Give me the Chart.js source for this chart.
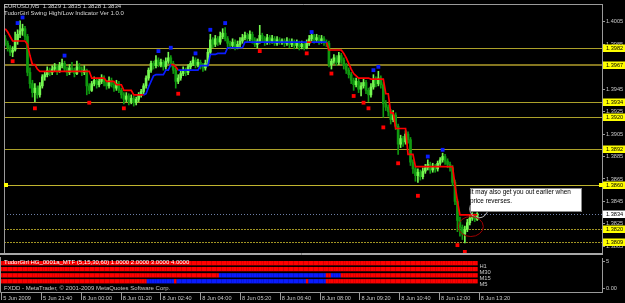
<!DOCTYPE html>
<html><head><meta charset="utf-8">
<script src="https://cdn.jsdelivr.net/npm/chart.js@4.4.1/dist/chart.umd.min.js"></script>
<style>
html,body{margin:0;padding:0;background:#000;}
#wrap{position:relative;width:625px;height:303px;overflow:hidden;background:#000;}
#main{position:absolute;left:0;top:0;}
#sub{position:absolute;left:0;top:257px;}
</style></head><body>
<div id="wrap"><canvas id="main" width="625" height="257"></canvas><canvas id="sub" width="625" height="46"></canvas></div>
<script>
// ---------------- data ----------------
const symbolTitle = 'EURUSD,M5  1.3829 1.3835 1.3828 1.3834';
const indicatorTitle = 'TudorGirl Swing High/Low Indicator Ver 1.0.0';
const mtfTitle = 'TudorGirl HG_0001a_MTF (5,15,30,60) 1.0000 2.0000 3.0000 4.0000';
const copyrightText = 'FXDD - MetaTrader, \u00A9 2001-2009 MetaQuotes Software Corp.';
const timeTickLabels = ['5 Jun 2009','5 Jun 21:40','8 Jun 00:00','8 Jun 01:20','8 Jun 02:40','8 Jun 04:00','8 Jun 05:20','8 Jun 06:40','8 Jun 08:00','8 Jun 09:20','8 Jun 10:40','8 Jun 12:00','8 Jun 13:20'];
const barsPerTimeTick = 16;
const emptySlotsRight = 50;

const opens = [
1.3990,1.3986,1.3982,1.3978,1.3980,1.3988,1.3994,1.3997,1.3999,1.3992,
1.3960,1.3950,1.3942,1.3946,1.3940,1.3948,1.3956,1.3958,1.3962,1.3960,
1.3963,1.3965,1.3961,1.3966,1.3968,1.3963,1.3960,1.3964,1.3962,1.3959,
1.3965,1.3963,1.3960,1.3962,1.3948,1.3944,1.3950,1.3953,1.3949,1.3952,
1.3955,1.3951,1.3948,1.3953,1.3949,1.3946,1.3950,1.3944,1.3940,1.3936,
1.3939,1.3934,1.3937,1.3933,1.3936,1.3940,1.3943,1.3948,1.3955,1.3962,
1.3968,1.3966,1.3971,1.3967,1.3969,1.3965,1.3970,1.3973,1.3968,1.3962,
1.3952,1.3955,1.3959,1.3962,1.3960,1.3965,1.3968,1.3971,1.3967,1.3969,
1.3966,1.3964,1.3968,1.3978,1.3989,1.3985,1.3990,1.3987,1.3992,1.3995,
1.3990,1.3986,1.3984,1.3987,1.3983,1.3985,1.3988,1.3991,1.3993,1.3990,
1.3994,1.3989,1.3985,1.3988,1.3993,1.3990,1.3987,1.3991,1.3988,1.3990,
1.3986,1.3989,1.3987,1.3988,1.3986,1.3988,1.3985,1.3987,1.3984,1.3986,
1.3983,1.3985,1.3982,1.3986,1.3990,1.3993,1.3989,1.3991,1.3988,1.3990,
1.3987,1.3986,1.3967,1.3970,1.3973,1.3969,1.3975,1.3971,1.3966,1.3962,
1.3958,1.3953,1.3949,1.3952,1.3945,1.3948,1.3951,1.3944,1.3940,1.3947,
1.3953,1.3950,1.3955,1.3949,1.3932,1.3929,1.3925,1.3918,1.3922,1.3912,
1.3896,1.3901,1.3898,1.3905,1.3900,1.3880,1.3874,1.3868,1.3871,1.3867,
1.3872,1.3875,1.3878,1.3873,1.3876,1.3874,1.3879,1.3882,1.3885,1.3881,
1.3878,1.3875,1.3862,1.3845,1.3828,1.3822,1.3816,1.3820,1.3826,1.3830,
1.3832,1.3829];
const highs = [
1.3993,1.3988,1.3984,1.3983,1.3996,1.3998,1.4006,1.4003,1.4001,1.3994,
1.3964,1.3953,1.3950,1.3948,1.3951,1.3958,1.3961,1.3965,1.3964,1.3966,
1.3968,1.3967,1.3969,1.3972,1.3970,1.3965,1.3967,1.3969,1.3964,1.3970,
1.3968,1.3965,1.3966,1.3963,1.3950,1.3952,1.3956,1.3955,1.3954,1.3958,
1.3957,1.3953,1.3956,1.3955,1.3951,1.3953,1.3952,1.3946,1.3942,1.3942,
1.3941,1.3940,1.3939,1.3938,1.3942,1.3945,1.3950,1.3957,1.3964,1.3970,
1.3970,1.3975,1.3973,1.3972,1.3971,1.3973,1.3978,1.3975,1.3970,1.3964,
1.3958,1.3961,1.3965,1.3964,1.3967,1.3970,1.3974,1.3973,1.3972,1.3971,
1.3968,1.3971,1.3981,1.3994,1.3991,1.3993,1.3992,1.3996,1.3999,1.4000,
1.3992,1.3988,1.3990,1.3989,1.3988,1.3991,1.3994,1.3996,1.3995,1.3997,
1.3996,1.3991,1.3990,1.4002,1.3995,1.3992,1.3994,1.3993,1.3993,1.3992,
1.3992,1.3991,1.3990,1.3990,1.3991,1.3990,1.3990,1.3989,1.3989,1.3988,
1.3988,1.3987,1.3989,1.3993,1.3995,1.3994,1.3994,1.3993,1.3993,1.3992,
1.3989,1.3988,1.3972,1.3976,1.3975,1.3978,1.3977,1.3973,1.3968,1.3964,
1.3960,1.3955,1.3955,1.3954,1.3951,1.3954,1.3953,1.3946,1.3950,1.3958,
1.3956,1.3961,1.3957,1.3951,1.3935,1.3931,1.3927,1.3926,1.3924,1.3914,
1.3904,1.3903,1.3908,1.3907,1.3902,1.3882,1.3876,1.3874,1.3873,1.3875,
1.3878,1.3882,1.3880,1.3879,1.3878,1.3881,1.3884,1.3888,1.3887,1.3883,
1.3880,1.3877,1.3864,1.3847,1.3831,1.3824,1.3823,1.3829,1.3833,1.3835,
1.3834,1.3835];
const lows = [
1.3984,1.3979,1.3975,1.3974,1.3979,1.3985,1.3991,1.3993,1.3989,1.3957,
1.3946,1.3938,1.3934,1.3937,1.3938,1.3946,1.3953,1.3956,1.3957,1.3958,
1.3961,1.3958,1.3960,1.3964,1.3961,1.3957,1.3958,1.3960,1.3956,1.3958,
1.3961,1.3957,1.3958,1.3940,1.3941,1.3943,1.3948,1.3946,1.3947,1.3950,
1.3948,1.3945,1.3946,1.3947,1.3943,1.3944,1.3942,1.3937,1.3932,1.3934,
1.3931,1.3932,1.3930,1.3931,1.3934,1.3938,1.3941,1.3946,1.3953,1.3960,
1.3963,1.3964,1.3965,1.3965,1.3962,1.3963,1.3968,1.3965,1.3959,1.3946,
1.3950,1.3953,1.3957,1.3957,1.3958,1.3963,1.3966,1.3964,1.3965,1.3963,
1.3961,1.3962,1.3966,1.3976,1.3982,1.3983,1.3984,1.3985,1.3990,1.3988,
1.3983,1.3981,1.3982,1.3980,1.3981,1.3983,1.3986,1.3989,1.3987,1.3988,
1.3986,1.3983,1.3982,1.3986,1.3987,1.3984,1.3985,1.3985,1.3986,1.3984,
1.3984,1.3985,1.3985,1.3983,1.3984,1.3982,1.3983,1.3981,1.3982,1.3980,
1.3981,1.3980,1.3981,1.3984,1.3988,1.3986,1.3987,1.3985,1.3986,1.3984,
1.3983,1.3965,1.3963,1.3968,1.3966,1.3967,1.3968,1.3963,1.3959,1.3955,
1.3950,1.3944,1.3947,1.3942,1.3939,1.3946,1.3941,1.3934,1.3938,1.3945,
1.3947,1.3948,1.3946,1.3920,1.3926,1.3921,1.3914,1.3916,1.3909,1.3887,
1.3893,1.3894,1.3896,1.3897,1.3877,1.3870,1.3863,1.3862,1.3864,1.3865,
1.3870,1.3873,1.3870,1.3871,1.3871,1.3872,1.3877,1.3880,1.3878,1.3875,
1.3872,1.3859,1.3842,1.3818,1.3814,1.3811,1.3808,1.3818,1.3824,1.3828,
1.3827,1.3828];
const closes = [
1.3986,1.3982,1.3978,1.3980,1.3988,1.3994,1.3997,1.3999,1.3992,1.3960,
1.3950,1.3942,1.3946,1.3940,1.3948,1.3956,1.3958,1.3962,1.3960,1.3963,
1.3965,1.3961,1.3966,1.3968,1.3963,1.3960,1.3964,1.3962,1.3959,1.3965,
1.3963,1.3960,1.3962,1.3948,1.3944,1.3950,1.3953,1.3949,1.3952,1.3955,
1.3951,1.3948,1.3953,1.3949,1.3946,1.3950,1.3944,1.3940,1.3936,1.3939,
1.3934,1.3937,1.3933,1.3936,1.3940,1.3943,1.3948,1.3955,1.3962,1.3968,
1.3966,1.3971,1.3967,1.3969,1.3965,1.3970,1.3973,1.3968,1.3962,1.3952,
1.3955,1.3959,1.3962,1.3960,1.3965,1.3968,1.3971,1.3967,1.3969,1.3966,
1.3964,1.3968,1.3978,1.3989,1.3985,1.3990,1.3987,1.3992,1.3995,1.3990,
1.3986,1.3984,1.3987,1.3983,1.3985,1.3988,1.3991,1.3993,1.3990,1.3994,
1.3989,1.3985,1.3988,1.3993,1.3990,1.3987,1.3991,1.3988,1.3990,1.3986,
1.3989,1.3987,1.3988,1.3986,1.3988,1.3985,1.3987,1.3984,1.3986,1.3983,
1.3985,1.3982,1.3986,1.3990,1.3993,1.3989,1.3991,1.3988,1.3990,1.3987,
1.3986,1.3967,1.3970,1.3973,1.3969,1.3975,1.3971,1.3966,1.3962,1.3958,
1.3953,1.3949,1.3952,1.3945,1.3948,1.3951,1.3944,1.3940,1.3947,1.3953,
1.3950,1.3955,1.3949,1.3932,1.3929,1.3925,1.3918,1.3922,1.3912,1.3896,
1.3901,1.3898,1.3905,1.3900,1.3880,1.3874,1.3868,1.3871,1.3867,1.3872,
1.3875,1.3878,1.3873,1.3876,1.3874,1.3879,1.3882,1.3885,1.3881,1.3878,
1.3875,1.3862,1.3845,1.3828,1.3822,1.3816,1.3820,1.3826,1.3830,1.3832,
1.3829,1.3834];

// trailing swing line (value per bar) and its colour runs [fromBar, toBar, side]
const trail = [
1.3999,1.3996,1.3992,1.3988,1.3988,1.3988,1.3988,1.3988,1.3988,1.3985,
1.3975,1.3967,1.3967,1.3963,1.3961,1.3961,1.3961,1.3961,1.3961,1.3961,
1.3961,1.3961,1.3961,1.3961,1.3961,1.3961,1.3961,1.3961,1.3961,1.3961,
1.3961,1.3961,1.3961,1.3961,1.3961,1.3955,1.3955,1.3955,1.3955,1.3955,
1.3955,1.3952,1.3952,1.3952,1.3952,1.3949,1.3949,1.3949,1.3944,1.3944,
1.3944,1.3944,1.3940,1.3940,1.3940,1.3940,1.3940,1.3941,1.3947,1.3952,
1.3957,1.3958,1.3958,1.3958,1.3958,1.3962,1.3962,1.3967,1.3967,1.3965,
1.3962,1.3962,1.3962,1.3962,1.3962,1.3962,1.3962,1.3962,1.3962,1.3966,
1.3966,1.3966,1.3966,1.3976,1.3976,1.3976,1.3977,1.3977,1.3977,1.3977,
1.3982,1.3982,1.3982,1.3982,1.3982,1.3982,1.3982,1.3987,1.3987,1.3987,
1.3987,1.3987,1.3987,1.3987,1.3987,1.3987,1.3987,1.3987,1.3987,1.3987,
1.3987,1.3987,1.3987,1.3987,1.3987,1.3987,1.3987,1.3987,1.3987,1.3987,
1.3987,1.3987,1.3987,1.3987,1.3987,1.3987,1.3987,1.3987,1.3987,1.3987,
1.3987,1.3980,1.3980,1.3980,1.3980,1.3980,1.3980,1.3977,1.3973,1.3968,
1.3963,1.3959,1.3957,1.3955,1.3955,1.3955,1.3955,1.3955,1.3954,1.3954,
1.3954,1.3954,1.3954,1.3954,1.3941,1.3941,1.3924,1.3924,1.3910,1.3910,
1.3910,1.3910,1.3910,1.3887,1.3887,1.3887,1.3876,1.3876,1.3876,1.3876,
1.3876,1.3876,1.3876,1.3876,1.3876,1.3876,1.3876,1.3876,1.3876,1.3876,
1.3876,1.3876,1.3860,1.3845,1.3833,1.3833,1.3833,1.3833,1.3833,1.3833,
1.3833,1.3833];
const trailRuns = [[0,56,'down'],[56,67,'up'],[67,70,'down'],[70,122,'up'],[122,124,'down'],[124,130,'up'],[130,191,'down']];

const swingHighBars   = [5, 7, 24, 62, 67, 77, 83, 89, 124, 149, 151, 171, 177];
const swingHighValues = [1.4004,1.4009,1.3975,1.3979,1.3982,1.3977,1.3998,1.4004,1.3996,1.3962,1.3965,1.3885,1.3891];
const swingLowBars    = [3, 12, 34, 48, 70, 103, 122, 132, 141, 145, 147, 153, 159, 167, 183, 186];
const swingLowValues  = [1.3970,1.3928,1.3933,1.3928,1.3941,1.3979,1.3977,1.3959,1.3939,1.3933,1.3928,1.3911,1.3879,1.3850,1.3806,1.3800];

const levelValues = [1.3982, 1.3967, 1.3934, 1.3920, 1.3892, 1.3860, 1.3820, 1.3809];
const selectedLevel = 1.3860;
const bidPrice = 1.3834;
const priceTicks = [1.4005,1.3985,1.3965,1.3945,1.3925,1.3905,1.3885,1.3865,1.3845,1.3825,1.3805];
const priceMin = 1.3799, priceMax = 1.4021;

const mtfRowNames  = ['H1','M30','M15','M5'];
const mtfRowLevels = [4.6, 3.5, 2.35, 1.25];
const mtfRuns = [
  [[0,191,'down']],
  [[0,191,'down']],
  [[0,87,'down'],[88,130,'up'],[131,132,'down'],[133,136,'up'],[137,191,'down']],
  [[0,58,'down'],[59,69,'up'],[70,70,'down'],[71,122,'up'],[123,123,'down'],[124,130,'up'],[131,191,'down']]
];
const subTickValues = [5, 0];
const subTickLabels = ['5', '0.00'];

const noteLines = ['It may also get you out earlier when', 'price reverses.'];
const noteBox = {fromBar: 188.0, toBar: 233.4, top: 1.38567, bottom: 1.38357};
const noteEllipse = {bar: 188.4, price: 1.38226};
const noteCircle = {bar: 191.6, price: 1.38383};

// ---------------- styles ----------------
const COL = {bull:'#74f850', bear:'#109a10', down:'#ff0000', up:'#0a1cff', axisText:'#c8c8c8', frame:'#9a9a9a'};
const levelStyles = [
  {color:'#aca02a', width:1, dash:[]},
  {color:'#857620', width:2, dash:[]},
  {color:'#aca02a', width:1, dash:[]},
  {color:'#aca02a', width:1, dash:[]},
  {color:'#aca02a', width:1, dash:[]},
  {color:'#c0b430', width:1, dash:[]},
  {color:'#a09424', width:1, dash:[2,1]},
  {color:'#a09424', width:1, dash:[2,1]}
];
const AX_FONT = {family:'Liberation Sans', size:5.6};
Chart.defaults.font.family = 'Liberation Sans';

// ---------------- built tables ----------------
const slotCount = closes.length + emptySlotsRight;
const slotLabels = Array.from({length: slotCount}, (_, i) => i);
const candleColors = closes.map((c, i) => c >= opens[i] ? COL.bull : COL.bear);
const trailDown = trail.map(() => null), trailUp = trail.map(() => null);
trailRuns.forEach(([a, b, side]) => { for (let i = a; i <= b; i++) (side === 'down' ? trailDown : trailUp)[i] = trail[i]; });
const highDots = closes.map(() => null); swingHighBars.forEach((b, k) => highDots[b] = swingHighValues[k]);
const lowDots = closes.map(() => null); swingLowBars.forEach((b, k) => lowDots[b] = swingLowValues[k]);

function text(ctx, s, x, y, color, size, align) {
  ctx.fillStyle = color; ctx.font = size + 'px "Liberation Sans"';
  ctx.textAlign = align || 'left'; ctx.textBaseline = 'middle'; ctx.fillText(s, x, y);
}

// ---------------- main chart ----------------
const mainDecor = {
  id: 'mainDecor',
  beforeDatasetsDraw(chart) {
    const {ctx, chartArea: a, scales: {y}} = chart;
    ctx.save();
    levelValues.forEach((v, i) => {
      const st = levelStyles[i];
      const py = Math.round(y.getPixelForValue(v)) + (st.width % 2 ? 0.5 : 0);
      ctx.strokeStyle = st.color; ctx.lineWidth = st.width; ctx.setLineDash(st.dash);
      ctx.beginPath(); ctx.moveTo(a.left, py); ctx.lineTo(a.right, py); ctx.stroke();
    });
    const by = Math.round(y.getPixelForValue(bidPrice)) + 0.5;
    ctx.strokeStyle = '#6e7fa6'; ctx.lineWidth = 1; ctx.setLineDash([1, 2]);
    ctx.beginPath(); ctx.moveTo(a.left, by); ctx.lineTo(a.right, by); ctx.stroke();
    ctx.restore();
  },
  afterDraw(chart) {
    const {ctx, chartArea: a, scales: {x, y}} = chart;
    ctx.save();
    ctx.strokeStyle = '#b8b8b8'; ctx.lineWidth = 1;
    ctx.beginPath(); ctx.arc(x.getPixelForValue(noteCircle.bar), y.getPixelForValue(noteCircle.price), 9, 0, Math.PI * 2); ctx.stroke();
    const bx0 = Math.round(x.getPixelForValue(noteBox.fromBar)), bx1 = Math.round(x.getPixelForValue(noteBox.toBar));
    const by0 = Math.round(y.getPixelForValue(noteBox.top)), by1 = Math.round(y.getPixelForValue(noteBox.bottom));
    ctx.fillStyle = '#ffffff'; ctx.fillRect(bx0, by0, bx1 - bx0, by1 - by0);
    ctx.strokeStyle = '#8a8a8a'; ctx.strokeRect(bx0 + 0.5, by0 + 0.5, bx1 - bx0 - 1, by1 - by0 - 1);
    noteLines.forEach((s, i) => text(ctx, s, bx0, by0 + 4 + i * 9, '#000', 6.4));
    ctx.strokeStyle = '#a00000';
    ctx.beginPath(); ctx.ellipse(x.getPixelForValue(noteEllipse.bar), y.getPixelForValue(noteEllipse.price), 12.5, 10, 0, 0, Math.PI * 2); ctx.stroke();

    ctx.strokeStyle = COL.frame; ctx.lineWidth = 1;
    ctx.beginPath();
    ctx.moveTo(a.left + 0.5, a.bottom); ctx.lineTo(a.left + 0.5, a.top + 0.5); ctx.lineTo(a.right, a.top + 0.5);
    ctx.stroke();
    ctx.strokeStyle = '#a8a8a8';
    ctx.beginPath(); ctx.moveTo(0, a.bottom + 0.5); ctx.lineTo(a.right + 1, a.bottom + 0.5);
    ctx.moveTo(0, a.bottom + 1.5); ctx.lineTo(a.right + 1, a.bottom + 1.5); ctx.stroke();

    const lab = (v, bg) => {
      const py = Math.round(y.getPixelForValue(v));
      ctx.fillStyle = bg; ctx.fillRect(a.right + 1, py - 3.5, 22, 7.5);
      text(ctx, v.toFixed(4), a.right + 4, py + 0.3, '#000', 5.6);
    };
    levelValues.forEach(v => lab(v, '#ffff00'));
    lab(bidPrice, '#ffffff');
    const sy = Math.round(y.getPixelForValue(selectedLevel));
    ctx.fillStyle = '#ffff00';
    ctx.fillRect(a.left, sy - 2, 4, 4); ctx.fillRect(a.right - 3, sy - 2, 4, 4);

    text(ctx, symbolTitle, 4, 6, '#d8d8d8', 6);
    text(ctx, indicatorTitle, 4, 13.5, '#d8d8d8', 6);
    ctx.restore();
  }
};

new Chart(document.getElementById('main'), {
  type: 'bar',
  data: {
    labels: slotLabels,
    datasets: [
      {label:'wick', data: lows.map((l, i) => [l, highs[i]]), backgroundColor: candleColors, barThickness: 1, grouped: false, order: 6, minBarLength: 1},
      {label:'body', data: opens.map((o, i) => [o, closes[i]]), backgroundColor: candleColors, barThickness: 2, grouped: false, order: 5, minBarLength: 1},
      {type:'line', label:'trail down', data: trailDown, borderColor: COL.down, borderWidth: 1.7, pointRadius: 0, spanGaps: false, order: 3},
      {type:'line', label:'trail up', data: trailUp, borderColor: COL.up, borderWidth: 1.7, pointRadius: 0, spanGaps: false, order: 2},
      {type:'line', label:'swing high', data: highDots, showLine: false, pointStyle: 'rect', pointRadius: 2.7, pointBackgroundColor: COL.up, pointBorderWidth: 0, order: 1},
      {type:'line', label:'swing low', data: lowDots, showLine: false, pointStyle: 'rect', pointRadius: 2.7, pointBackgroundColor: COL.down, pointBorderWidth: 0, order: 1}
    ]
  },
  options: {
    responsive: false, animation: false, devicePixelRatio: 1, events: [],
    layout: {padding: {left: 0, right: 0, top: 1, bottom: 2}},
    plugins: {legend: {display: false}, tooltip: {enabled: false}},
    scales: {
      x: {display: false, offset: true},
      y: {
        position: 'right', min: priceMin, max: priceMax,
        afterBuildTicks: s => { s.ticks = priceTicks.map(v => ({value: v})); },
        afterFit: s => { s.width = 23; s.paddingTop = 0; s.paddingBottom = 0; },
        ticks: {color: COL.axisText, font: AX_FONT, padding: 1, callback: v => Number(v).toFixed(4)},
        grid: {drawOnChartArea: false, tickLength: 3, color: COL.frame},
        border: {display: true, color: COL.frame}
      }
    }
  },
  plugins: [mainDecor]
});

// ---------------- sub window ----------------
const rowColor = (runs) => closes.map((_, i) => { const r = runs.find(([a, b]) => i >= a && i <= b); return r && r[2] === 'up' ? COL.up : COL.down; });
const subDecor = {
  id: 'subDecor',
  afterDraw(chart) {
    const {ctx, chartArea: a, scales: {x, y}} = chart;
    ctx.save();
    text(ctx, mtfTitle, 4, y.getPixelForValue(mtfRowLevels[0]) - 0.5, '#ffffff', 6);
    const endX = x.getPixelForValue(closes.length - 1) + 3;
    mtfRowNames.forEach((n, i) => text(ctx, n, endX, y.getPixelForValue(mtfRowLevels[i]) + 3, '#c8c8c8', 5.8));
    text(ctx, copyrightText, 4, y.getPixelForValue(0) + 0.5, '#c8c8c8', 6);
    ctx.strokeStyle = COL.frame; ctx.lineWidth = 1;
    ctx.beginPath();
    ctx.moveTo(a.left + 0.5, 0); ctx.lineTo(a.left + 0.5, a.bottom + 0.5); ctx.lineTo(a.right, a.bottom + 0.5);
    x.ticks.forEach((t, i) => { const px = Math.round(x.getPixelForTick(i)) + 0.5; ctx.moveTo(px, a.bottom + 1); ctx.lineTo(px, a.bottom + 8); });
    ctx.stroke();
    ctx.restore();
  }
};

new Chart(document.getElementById('sub'), {
  type: 'bar',
  data: {
    labels: slotLabels,
    datasets: mtfRowLevels.map((lvl, r) => ({
      label: mtfRowNames[r],
      data: closes.map(() => [lvl - 0.4, lvl + 0.4]),
      backgroundColor: rowColor(mtfRuns[r]),
      barPercentage: 1.06, categoryPercentage: 1, grouped: false, borderWidth: 0
    }))
  },
  options: {
    responsive: false, animation: false, devicePixelRatio: 1, events: [],
    layout: {padding: {left: 0, right: 0, top: 1, bottom: 0}},
    plugins: {legend: {display: false}, tooltip: {enabled: false}},
    scales: {
      x: {
        offset: true,
        afterBuildTicks: s => { s.ticks = s.ticks.filter(t => t.value % barsPerTimeTick === 0 && t.value / barsPerTimeTick < timeTickLabels.length); },
        afterFit: s => { s.height = 11; s.paddingLeft = 0; s.paddingRight = 0; },
        ticks: {color: COL.axisText, font: AX_FONT, autoSkip: false, maxRotation: 0, minRotation: 0, align: 'start', labelOffset: 2, padding: 3,
                callback: v => timeTickLabels[v / barsPerTimeTick]},
        grid: {display: false, drawTicks: false},
        border: {display: false}
      },
      y: {
        position: 'right', min: -0.74, max: 5.56,
        afterBuildTicks: s => { s.ticks = subTickValues.map(v => ({value: v})); },
        afterFit: s => { s.width = 23; s.paddingTop = 0; s.paddingBottom = 0; },
        ticks: {color: COL.axisText, font: AX_FONT, padding: 1, callback: v => subTickLabels[subTickValues.indexOf(v)]},
        grid: {drawOnChartArea: false, tickLength: 3, color: COL.frame},
        border: {display: true, color: COL.frame}
      }
    }
  },
  plugins: [subDecor]
});
</script>
</body></html>
